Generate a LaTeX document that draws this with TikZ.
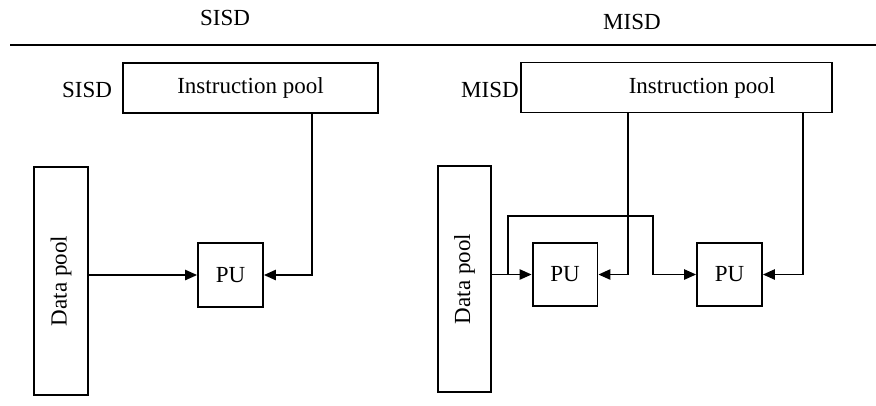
\documentclass[tikz,border=0pt]{standalone}
\usepackage{fontspec}
\setmainfont{Liberation Serif}
\usetikzlibrary{arrows.meta,positioning}

\begin{document}
\begin{tikzpicture}[
  x=0.168mm, y=-0.168mm,
  font=\fontsize{11}{13}\selectfont,
  box/.style={draw,line width=0.9pt},
  pool/.style={box,minimum width=42.8mm,minimum height=8.4mm},
  dbox/.style={box,rotate=90,minimum width=38.2mm,minimum height=9mm},
  pu/.style={box,minimum width=10.9mm,minimum height=10.7mm},
  wire/.style={line width=0.9pt},
  arr/.style={-{Triangle[length=2mm,width=1.7mm]},line width=0.9pt}
]
\useasboundingbox (0,0) rectangle (876,405);

% headings
\node (tsisd) at (225,18) {SISD};
\node (tmisd) at (632,22) {MISD};
\draw[wire] (10,45) -- (876,45);

% SISD
\node (lsisd) at (87,90) {SISD};
\node[pool] (ipool) at (250.5,88) {Instruction pool};
\node[dbox] (dpool) at (61,281) {Data pool};
\node[pu] (pu) at (230.5,275) {PU};
\draw[arr] (dpool.south |- pu.west) -- (pu.west);
\draw[arr] ([xshift=10.3mm]ipool.south) |- (pu.east);

% MISD
\node (lmisd) at (490,90) {MISD};
\node[pool,minimum width=52.2mm] (mpool) at (676.5,87.5) {};
\node (mtext) at (702,88) {Instruction pool};
\node[dbox,minimum width=38mm,minimum height=8.9mm] (mdpool) at (464.5,279) {Data pool};
\node[pu] (pua) at (565,274.5) {PU};
\node[pu] (pub) at (729.5,274.5) {PU};
\coordinate (fork) at (508,274.5);
\coordinate (bend) at (653,216);
\draw[arr] (mdpool.south |- pua.west) -- (pua.west);
\draw[arr] (fork) |- (bend) |- (pub.west);
\draw[arr] ([xshift=-8.15mm]mpool.south) |- (pua.east);
\draw[arr] ([xshift=21.25mm]mpool.south) |- (pub.east);
\end{tikzpicture}
\end{document}
